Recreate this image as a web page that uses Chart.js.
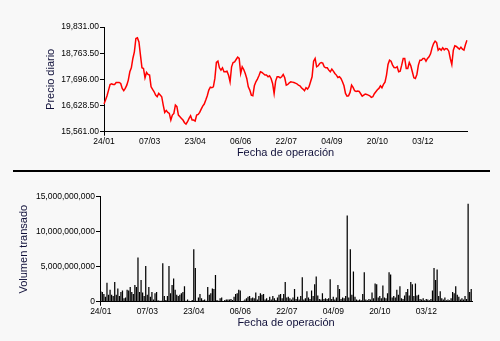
<!DOCTYPE html>
<html>
<head>
<meta charset="utf-8">
<script src="https://cdn.jsdelivr.net/npm/chart.js@4"></script>
<style>
  html, body { margin: 0; padding: 0; background: #f8f8f8; }
  #wrap { position: relative; width: 500px; height: 341px; overflow: hidden; background: #f8f8f8; }
  .panel { position: absolute; left: 0; width: 500px; height: 170px; }
  #sep { position: absolute; left: 13px; top: 170px; width: 477px; height: 2px; background: #000; }
</style>
</head>
<body>
<div id="wrap">
  <div class="panel" style="top:0"><canvas id="precio" width="500" height="170"></canvas></div>
  <div id="sep"></div>
  <div class="panel" style="top:171px"><canvas id="volumen" width="500" height="170"></canvas></div>
</div>
<script>
// Precio de cierre diario (una entrada por sesión)
const precios = [
  16688, 16851, 17027, 17258, 17488, 17515, 17488, 17488, 17570, 17570,
  17570, 17529, 17326, 17231, 17326, 17461, 17665, 18004, 18167, 18547,
  18818, 19361, 19388, 19225, 18683, 18167, 18140, 17760, 17977, 17896,
  17869, 17393, 17285, 17190, 17054, 16987, 17122, 17054, 16987, 16647,
  16349, 16430, 16349, 16308, 16036, 16240, 16308, 16647, 16580, 16240,
  16172, 16104, 16036, 15928, 15874, 15969, 16104, 16213, 16036, 16036,
  15996, 16240, 16267, 16349, 16484, 16607, 16688, 16851, 17027, 17258,
  17380, 17353, 17393, 17733, 18384, 18438, 18167, 18072, 18167, 18004,
  18004, 18031, 17869, 17597, 18208, 18384, 18411, 18506, 18601, 18547,
  17936, 18208, 18099, 17936, 17733, 17393, 17258, 17054, 17027, 17434,
  17597, 17706, 17842, 18004, 17977, 17923, 17869, 17869, 17801, 17842,
  17733, 17529, 17122, 17624, 17801, 17801, 17760, 17801, 17896, 17760,
  17461, 17488, 17556, 17597, 17583, 17570, 17543, 17515, 17461, 17434,
  17353, 17298, 17231, 17353, 17298, 17393, 17597, 17801, 18438, 18547,
  18208, 18248, 18343, 18384, 18357, 18208, 18167, 18167, 18072, 18004,
  18113, 18031, 17936, 17869, 17774, 17801, 17733, 17597, 17434, 17122,
  17013, 17027, 17163, 17461, 17366, 17231, 17204, 17217, 17204, 17109,
  17013, 17054, 17095, 17081, 17054, 17027, 16960, 16987, 17109, 17190,
  17271, 17326, 17434, 17353, 17488, 17583, 17869, 18303, 18479, 18438,
  18276, 18180, 18167, 18208, 18004, 18031, 18276, 18547, 18547, 18140,
  18140, 18384, 18248, 18004, 17760, 17733, 17896, 18276, 18479, 18479,
  18547, 18547, 18438, 18547, 18615, 18737, 18981, 19158, 19253, 19198,
  18886, 18954, 18886, 18981, 18900, 18954, 18940, 18845, 18547, 18303,
  18886, 19063, 19036, 18981, 18927, 19009, 18927, 18886, 19117, 19293
];

// Volumen transado por sesión
const volumenes = [
  1.5e9, 1.4e9, 1.1e9, 0.7e9, 2.7e9, 1.0e9, 1.7e9, 1.0e9, 0.8e9, 2.8e9,
  1.0e9, 1.9e9, 0.8e9, 1.4e9, 1.6e9, 0.5e9, 0.6e9, 1.7e9, 1.6e9, 2.1e9,
  1.4e9, 1.1e9, 2.4e9, 2.1e9, 6.3e9, 1.4e9, 3.1e9, 1.3e9, 0.8e9, 5.1e9,
  1.0e9, 2.1e9, 0.7e9, 1.4e9, 0.3e9, 1.2e9, 1.4e9, 0.2e9, 0.15e9, 0.15e9,
  5.5e9, 0.8e9, 0.25e9, 0.8e9, 5.1e9, 1.2e9, 2.4e9, 3.3e9, 1.7e9, 1.0e9,
  0.8e9, 1.0e9, 1.2e9, 1.4e9, 2.2e9, 0.15e9, 0.3e9, 0.15e9, 0.1e9, 0.25e9,
  7.5e9, 4.8e9, 0.15e9, 0.6e9, 1.1e9, 0.5e9, 0.25e9, 0.3e9, 0.15e9, 2.1e9,
  1.0e9, 1.2e9, 1.9e9, 1.8e9, 3.8e9, 0.25e9, 0.15e9, 0.5e9, 0.6e9, 0.1e9,
  0.25e9, 0.3e9, 0.3e9, 0.3e9, 0.4e9, 0.25e9, 0.7e9, 1.1e9, 1.2e9, 1.7e9,
  1.6e9, 0.1e9, 0.15e9, 0.3e9, 0.5e9, 0.7e9, 0.8e9, 0.5e9, 0.6e9, 0.5e9,
  1.3e9, 0.3e9, 0.8e9, 1.2e9, 1.0e9, 1.1e9, 0.3e9, 0.5e9, 0.25e9, 0.7e9,
  0.3e9, 0.8e9, 0.5e9, 0.25e9, 0.6e9, 1.0e9, 1.1e9, 0.5e9, 1.1e9, 2.8e9,
  0.6e9, 0.7e9, 0.5e9, 0.3e9, 0.6e9, 1.8e9, 0.4e9, 0.7e9, 0.3e9, 0.8e9,
  3.5e9, 0.3e9, 0.5e9, 1.5e9, 0.6e9, 0.4e9, 1.6e9, 0.8e9, 2.5e9, 3.6e9,
  0.9e9, 0.4e9, 0.3e9, 1.2e9, 0.4e9, 0.5e9, 0.4e9, 0.5e9, 3.2e9, 0.4e9,
  0.7e9, 0.3e9, 0.6e9, 2.4e9, 1.8e9, 0.4e9, 0.6e9, 0.5e9, 0.8e9, 12.3e9,
  0.6e9, 7.5e9, 1.0e9, 4.3e9, 0.7e9, 0.3e9, 0.2e9, 0.3e9, 0.2e9, 1.1e9,
  4.2e9, 0.3e9, 0.2e9, 0.4e9, 0.3e9, 1.3e9, 0.5e9, 2.6e9, 2.5e9, 0.6e9,
  0.8e9, 0.5e9, 2.3e9, 0.6e9, 0.5e9, 1.2e9, 4.2e9, 3.9e9, 0.6e9, 0.8e9,
  0.6e9, 1.7e9, 1.0e9, 2.2e9, 0.5e9, 0.4e9, 0.9e9, 1.4e9, 1.8e9, 0.9e9,
  2.8e9, 2.5e9, 0.8e9, 2.6e9, 0.9e9, 1.0e9, 0.4e9, 0.3e9, 0.5e9, 0.2e9,
  0.4e9, 0.3e9, 0.2e9, 0.4e9, 1.6e9, 4.8e9, 3.1e9, 4.6e9, 0.8e9, 1.5e9,
  0.5e9, 0.3e9, 0.6e9, 0.2e9, 0.3e9, 0.2e9, 0.5e9, 1.4e9, 1.2e9, 2.2e9,
  1.0e9, 0.7e9, 0.3e9, 0.5e9, 0.3e9, 0.8e9, 0.4e9, 14.0e9, 1.4e9, 1.8e9
];

// Fechas rotuladas en el eje horizontal, una cada "sesionesPorTick" sesiones
const fechasTick = ['24/01', '07/03', '23/04', '06/06', '22/07', '04/09', '20/10', '03/12'];
const sesionesPorTick = 30;

// Marcas del eje de precios
const preciosTick = [15561, 16628.5, 17696, 18763.5, 19831];
// Marcas del eje de volumen
const volumenTick = [0, 5e9, 10e9, 15e9];

const sesiones = precios.map((_, i) => i);

const familia = '"Liberation Sans", Arial, Helvetica, sans-serif';
const fuenteTick = { family: familia, size: 8.5 };
const fuenteTitulo = { family: familia, size: 11, lineHeight: 1.2 };
const colorTitulo = '#10103a';

function etiquetaFecha(value, index) {
  return index % sesionesPorTick === 0 ? fechasTick[index / sesionesPorTick] : null;
}
function colorMarcaFecha(ctx) {
  return ctx.index % sesionesPorTick === 0 ? '#000' : 'rgba(0,0,0,0)';
}

function ejeX(alto, paddingTitulo) {
  return {
    type: 'category',
    grid: { display: true, drawOnChartArea: false, drawTicks: true, tickLength: 4,
            offset: false, color: '#000', tickColor: colorMarcaFecha },
    border: { display: true, color: '#000', width: 1 },
    ticks: { autoSkip: false, maxRotation: 0, minRotation: 0, padding: 1,
             color: '#000', font: fuenteTick, callback: etiquetaFecha },
    title: { display: true, text: 'Fecha de operación', color: colorTitulo,
             font: fuenteTitulo, padding: { top: 0, bottom: paddingTitulo } },
    afterFit(scale) { scale.height = alto; }
  };
}

// Gráfico superior: precio diario
new Chart(document.getElementById('precio'), {
  type: 'line',
  data: {
    labels: sesiones,
    datasets: [{
      data: precios,
      borderColor: '#ff0000',
      borderWidth: 1.5,
      pointRadius: 0,
      tension: 0,
      fill: false
    }]
  },
  options: {
    responsive: false,
    animation: false,
    events: [],
    layout: { padding: { left: 0, right: 33, top: 27, bottom: 0 } },
    plugins: { legend: { display: false }, tooltip: { enabled: false } },
    scales: {
      x: ejeX(38.3, 10.4),
      y: {
        min: preciosTick[0],
        max: preciosTick[preciosTick.length - 1],
        afterBuildTicks(scale) { scale.ticks = preciosTick.map(v => ({ value: v })); },
        grid: { display: true, drawOnChartArea: false, drawTicks: true, tickLength: 4,
                color: '#000', tickColor: '#000' },
        border: { display: true, color: '#000', width: 1 },
        ticks: {
          padding: 1, color: '#000', font: fuenteTick,
          callback: v => v.toLocaleString('en-US', { minimumFractionDigits: 2, maximumFractionDigits: 2 })
        },
        title: { display: true, text: 'Precio diario', color: colorTitulo,
                 font: fuenteTitulo, padding: { top: 44.4, bottom: 0 } },
        afterFit(scale) { scale.width = 104; }
      }
    }
  }
});

// Gráfico inferior: volumen transado
new Chart(document.getElementById('volumen'), {
  type: 'bar',
  data: {
    labels: sesiones,
    datasets: [{
      data: volumenes,
      backgroundColor: '#000',
      borderWidth: 0,
      barPercentage: 0.8,
      categoryPercentage: 1
    }]
  },
  options: {
    responsive: false,
    animation: false,
    events: [],
    layout: { padding: { left: 0, right: 28, top: 25.7, bottom: 0 } },
    plugins: { legend: { display: false }, tooltip: { enabled: false } },
    scales: {
      x: ejeX(39.3, 11.4),
      y: {
        min: volumenTick[0],
        max: volumenTick[volumenTick.length - 1],
        afterBuildTicks(scale) { scale.ticks = volumenTick.map(v => ({ value: v })); },
        grid: { display: true, drawOnChartArea: false, drawTicks: true, tickLength: 4,
                color: '#000', tickColor: '#000' },
        border: { display: true, color: '#000', width: 1 },
        ticks: {
          padding: 1, color: '#000', font: fuenteTick,
          callback: v => v.toLocaleString('en-US')
        },
        title: { display: true, text: 'Volumen transado', color: colorTitulo,
                 font: fuenteTitulo, padding: { top: 16.9, bottom: 0 } },
        afterFit(scale) { scale.width = 100; }
      }
    }
  }
});
</script>
</body>
</html>
